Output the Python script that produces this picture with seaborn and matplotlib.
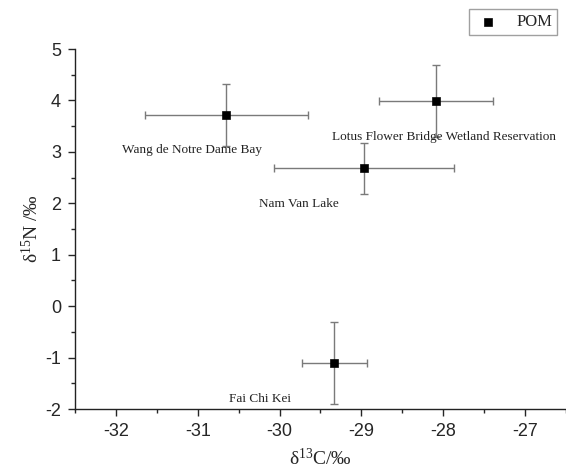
import seaborn as sns
import matplotlib.pyplot as plt
from matplotlib.ticker import MultipleLocator

# values
sites = ["Wang de Notre Dame Bay", "Lotus Flower Bridge Wetland Reservation",
         "Nam Van Lake", "Fai Chi Kei"]
d13c = [-30.65, -28.09, -28.97, -29.33]
d15n = [3.72, 3.99, 2.68, -1.11]
d13c_sd = [1.0, 0.7, 1.1, 0.4]
d15n_sd = [0.6, 0.7, 0.5, 0.8]
# label offsets from each point (x, y)
label_dx = [-0.42, 0.10, -0.80, -0.91]
label_dy = [-0.68, -0.70, -0.69, -0.70]

sns.set_style("ticks")
plt.rcParams["axes.unicode_minus"] = False
plt.rcParams["mathtext.fontset"] = "custom"
plt.rcParams["mathtext.rm"] = "Liberation Serif"
plt.rcParams["mathtext.it"] = "Liberation Serif:italic"

fig = plt.figure(figsize=(5.66, 4.73), dpi=100)
ax = fig.add_axes([0.1325, 0.1353, 0.8675, 0.7611])

ax.errorbar(d13c, d15n, xerr=d13c_sd, yerr=d15n_sd, fmt="none",
            ecolor="#7a7a7a", elinewidth=1.0, capsize=3, capthick=1.0, zorder=1)
sns.scatterplot(x=d13c, y=d15n, marker="s", color="black", edgecolor="black",
                s=34, label="POM", ax=ax, zorder=3)

for name, x, y, dx, dy in zip(sites, d13c, d15n, label_dx, label_dy):
    ax.text(x + dx, y + dy, name, ha="center", va="center", fontsize=9.5,
            family="Liberation Serif", color="#222222")

ax.set_xlim(-32.5, -26.5)
ax.set_ylim(-2, 5)
ax.xaxis.set_major_locator(MultipleLocator(1))
ax.xaxis.set_minor_locator(MultipleLocator(0.5))
ax.yaxis.set_major_locator(MultipleLocator(1))
ax.yaxis.set_minor_locator(MultipleLocator(0.5))
ax.tick_params(which="major", length=5, width=1, pad=5, labelsize=13)
ax.tick_params(which="minor", length=3, width=1)
for lab in ax.get_xticklabels() + ax.get_yticklabels():
    lab.set_family("Liberation Sans")

sns.despine(ax=ax)
for side in ["left", "bottom"]:
    ax.spines[side].set_linewidth(1.0)
    ax.spines[side].set_color("#222222")

ax.set_xlabel("δ$^{13}$C/‰", fontsize=14, family="Liberation Serif", labelpad=6)
ax.set_ylabel("δ$^{15}$N /‰", fontsize=14, family="Liberation Serif", labelpad=2)

leg = ax.legend(loc="upper right", bbox_to_anchor=(0.984, 0.981),
                bbox_transform=fig.transFigure, fancybox=False,
                edgecolor="#888888", borderpad=0.3, handletextpad=0.9,
                handlelength=1.6, borderaxespad=0,
                prop={"family": "Liberation Serif", "size": 12})
leg.get_frame().set_linewidth(1.0)

fig.savefig("out.png", dpi=100)
